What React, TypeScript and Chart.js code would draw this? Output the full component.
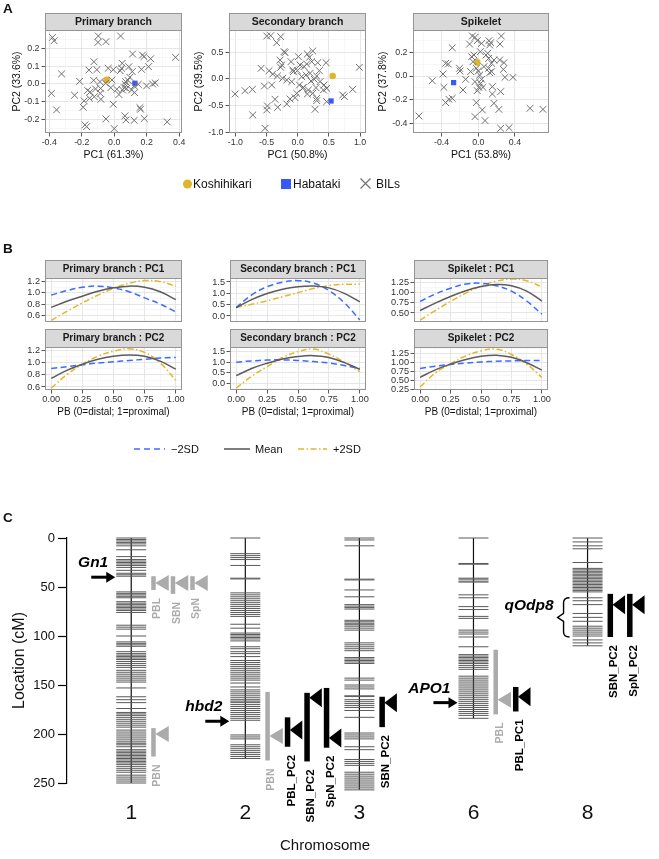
import React, { useEffect, useRef } from 'react';
import { Chart, registerables } from 'chart.js';

Chart.register(...registerables);

const FONT = '"Liberation Sans", Arial, Helvetica, sans-serif';
const YELLOW = '#E0B52A';
const BLUE = '#3658FF';
const CROSS = '#707070';
const SD_BLUE = '#3E6BFF';
const SD_GRAY = '#5c5c5c';
const SD_YELLOW = '#E5B62A';

// ---------------- Panel A: PCA scatter ----------------
const pcaTitles = ['Primary branch', 'Secondary branch', 'Spikelet'];
const pc1Labels = ['PC1 (61.3%)', 'PC1 (50.8%)', 'PC1 (53.8%)'];
const pc2Labels = ['PC2 (33.6%)', 'PC2 (39.5%)', 'PC2 (37.8%)'];
const pcaXTicks = [[-0.4, -0.2, 0, 0.2, 0.4], [-1, -0.5, 0, 0.5, 1], [-0.4, 0, 0.4]];
const pcaYTicks = [[-0.2, -0.1, 0, 0.1, 0.2], [-1, -0.5, 0, 0.5], [-0.4, -0.2, 0, 0.2]];

const primaryBILs = [
  [-0.38, 0.264], [-0.37, 0.245], [-0.098, 0.272], [-0.1, 0.236], [-0.051, 0.24], [0.039, 0.272],
  [0.113, 0.17], [0.174, 0.164], [0.183, 0.155], [0.224, 0.143], [0.377, 0.151], [-0.125, 0.126],
  [-0.156, 0.079], [-0.107, 0.081], [-0.324, 0.057], [-0.037, 0.089], [-0.006, 0.081], [0.037, 0.075],
  [0.049, 0.117], [0.045, 0.089], [0.09, 0.098], [0.111, 0.07], [0.168, 0.083], [0.211, 0.098],
  [-0.213, 0.015], [-0.127, 0.021], [-0.088, 0.013], [-0.053, 0.004], [-0.014, 0.023], [0.07, 0.013],
  [0.084, 0.021], [0.096, 0.038], [0.068, -0.002], [0.123, -0.011], [0.148, -0.002], [0.199, -0.011],
  [0.236, 0.0], [0.252, 0.006], [-0.386, -0.053], [-0.244, -0.064], [-0.164, -0.036], [-0.148, -0.045],
  [-0.115, -0.028], [-0.084, -0.025], [-0.086, -0.053], [-0.021, -0.021], [0.016, -0.03], [0.029, -0.06],
  [0.051, -0.034], [0.076, -0.025], [0.107, -0.034], [0.125, -0.049], [-0.152, -0.081], [-0.123, -0.072],
  [-0.082, -0.087], [-0.185, -0.096], [-0.191, -0.132], [-0.006, -0.115], [-0.355, -0.147], [0.158, -0.134],
  [0.162, -0.143], [0.066, -0.181], [0.072, -0.204], [0.123, -0.206], [0.185, -0.196], [-0.051, -0.198],
  [-0.18, -0.232], [-0.17, -0.242], [0.0, -0.253], [0.326, -0.215], [0.062, -0.021],
];
const secondaryBILs = [
  [-0.497, 0.806], [-0.433, 0.813], [-0.273, 0.794], [-0.337, 0.681], [-0.219, 0.513], [-0.203, 0.494],
  [0.011, 0.419], [0.155, 0.469], [0.241, 0.525], [0.187, 0.406], [0.455, 0.306], [0.989, 0.219],
  [-0.283, 0.356], [-0.257, 0.263], [-0.273, 0.219], [-0.588, 0.2], [-0.46, 0.156], [-0.107, 0.325],
  [-0.07, 0.138], [-0.08, 0.169], [0.037, 0.263], [0.102, 0.231], [0.225, 0.325], [0.321, 0.306],
  [0.348, 0.156], [0.198, 0.106], [0.305, 0.056], [0.267, -0.006], [0.134, 0.075], [0.064, 0.044],
  [-0.326, 0.056], [-0.401, 0.094], [-0.241, 0.013], [-0.176, -0.019], [-0.096, -0.05], [0.027, -0.113],
  [0.091, -0.156], [0.214, -0.038], [0.358, -0.05], [0.422, -0.113], [0.294, -0.163], [0.171, -0.206],
  [0.241, -0.269], [0.305, -0.363], [0.305, -0.406], [0.278, -0.569], [0.155, -0.281], [0.08, -0.175],
  [-0.016, -0.269], [-0.123, -0.375], [-0.176, -0.469], [-0.043, -0.35], [-0.364, -0.381], [-0.487, -0.506],
  [-0.497, -0.581], [-0.321, -0.531], [-0.727, -0.194], [-0.845, -0.219], [-1.005, -0.281], [-0.535, -0.131],
  [-0.417, -0.113], [-0.722, -0.675], [-0.524, -0.925], [0.465, -0.175], [0.412, -0.206], [0.722, -0.3],
  [0.749, -0.331], [0.882, -0.194], [0.465, -0.425], [-0.005, 0.156], [0.144, 0.281],
];
const spikeletBILs = [
  [-0.065, 0.338], [-0.036, 0.327], [-0.095, 0.27], [-0.011, 0.299], [0.036, 0.276], [0.116, 0.299],
  [0.135, 0.282], [0.124, 0.262], [0.251, 0.338], [0.236, 0.27], [-0.284, 0.239], [-0.356, 0.107],
  [-0.327, 0.101], [-0.204, 0.065], [-0.2, 0.042], [-0.073, 0.163], [-0.047, 0.177], [0.022, 0.206],
  [0.084, 0.177], [0.113, 0.149], [0.102, 0.192], [0.145, 0.107], [0.171, 0.135], [0.233, 0.135],
  [0.28, 0.113], [0.273, 0.056], [0.291, -0.011], [0.378, -0.011], [0.145, 0.037], [0.124, 0.028],
  [-0.084, 0.037], [-0.022, 0.065], [0.0, 0.042], [0.015, 0.008], [0.036, -0.028], [0.025, -0.062],
  [0.007, -0.096], [-0.011, -0.124], [0.051, -0.096], [-0.138, -0.028], [-0.167, -0.118], [0.153, -0.09],
  [0.153, -0.152], [0.244, -0.132], [-0.022, -0.225], [0.044, -0.287], [0.225, -0.282], [0.171, -0.231],
  [-0.036, -0.344], [0.073, -0.377], [0.244, -0.442], [0.335, -0.437], [0.564, -0.273], [0.705, -0.282],
  [-0.385, 0.017], [-0.375, -0.096], [-0.284, -0.189], [-0.32, -0.197], [-0.356, -0.225], [0.113, 0.065],
  [0.062, 0.079], [-0.058, 0.121], [-0.036, -0.048], [-0.502, -0.04], [-0.647, -0.338],
];
const pcaBILs = [primaryBILs, secondaryBILs, spikeletBILs];
const koshihikari = [[-0.047, 0.023], [0.561, 0.056], [-0.011, 0.115]];
const habataki = [[0.127, 0.004], [0.535, -0.413], [-0.269, -0.056]];

// ---------------- Panel B: curves along the panicle ----------------
const pbPosition = [0, 0.125, 0.25, 0.375, 0.5, 0.625, 0.75, 0.875, 1];
const pbXTicks = [0, 0.25, 0.5, 0.75, 1];
const curveTitles = [
  'Primary branch : PC1', 'Secondary branch : PC1', 'Spikelet : PC1',
  'Primary branch : PC2', 'Secondary branch : PC2', 'Spikelet : PC2',
];
const primaryPC1Minus = [0.96, 1.04, 1.1, 1.12, 1.09, 1.02, 0.91, 0.8, 0.66];
const primaryPC1Mean = [0.74, 0.85, 0.94, 1.03, 1.09, 1.12, 1.1, 1.02, 0.88];
const primaryPC1Plus = [0.51, 0.67, 0.82, 0.96, 1.08, 1.17, 1.22, 1.2, 1.12];
const secondaryPC1Minus = [0.37, 0.93, 1.29, 1.49, 1.56, 1.45, 1.12, 0.58, -0.17];
const secondaryPC1Mean = [0.37, 0.72, 0.99, 1.18, 1.29, 1.32, 1.24, 1.0, 0.62];
const secondaryPC1Plus = [0.37, 0.52, 0.67, 0.85, 1.03, 1.21, 1.34, 1.4, 1.4];
const spikeletPC1Minus = [0.78, 0.96, 1.1, 1.2, 1.22, 1.16, 1.03, 0.79, 0.47];
const spikeletPC1Mean = [0.56, 0.74, 0.9, 1.04, 1.14, 1.19, 1.16, 1.03, 0.79];
const spikeletPC1Plus = [0.33, 0.56, 0.78, 0.98, 1.15, 1.27, 1.32, 1.28, 1.13];
const primaryPC2Minus = [0.9, 0.93, 0.96, 0.99, 1.01, 1.03, 1.05, 1.07, 1.08];
const primaryPC2Mean = [0.74, 0.87, 0.97, 1.05, 1.1, 1.12, 1.1, 1.02, 0.89];
const primaryPC2Plus = [0.58, 0.8, 0.97, 1.1, 1.18, 1.22, 1.16, 0.99, 0.71];
const secondaryPC2Minus = [1.0, 1.06, 1.1, 1.11, 1.08, 1.03, 0.96, 0.84, 0.7];
const secondaryPC2Mean = [0.36, 0.7, 0.95, 1.15, 1.27, 1.31, 1.22, 0.98, 0.66];
const secondaryPC2Plus = [-0.23, 0.33, 0.79, 1.22, 1.5, 1.62, 1.38, 1.0, 0.55];
const spikeletPC2Minus = [0.83, 0.89, 0.94, 0.98, 1.01, 1.03, 1.04, 1.05, 1.05];
const spikeletPC2Mean = [0.58, 0.79, 0.95, 1.08, 1.17, 1.2, 1.14, 0.99, 0.78];
const spikeletPC2Plus = [0.31, 0.7, 0.96, 1.18, 1.32, 1.37, 1.22, 0.95, 0.58];
const curveMinus = [primaryPC1Minus, secondaryPC1Minus, spikeletPC1Minus, primaryPC2Minus, secondaryPC2Minus, spikeletPC2Minus];
const curveMean = [primaryPC1Mean, secondaryPC1Mean, spikeletPC1Mean, primaryPC2Mean, secondaryPC2Mean, spikeletPC2Mean];
const curvePlus = [primaryPC1Plus, secondaryPC1Plus, spikeletPC1Plus, primaryPC2Plus, secondaryPC2Plus, spikeletPC2Plus];
const curveYTicks = [
  [0.6, 0.8, 1.0, 1.2], [0, 0.5, 1, 1.5], [0.5, 0.75, 1, 1.25],
  [0.6, 0.8, 1.0, 1.2], [0, 0.5, 1, 1.5], [0.25, 0.5, 0.75, 1, 1.25],
];
const curveYDecimals = [1, 1, 2, 1, 1, 2];
const curveLegend = ['\u22122SD', 'Mean', '+2SD'];

// ---------------- Panel C: linkage map ----------------
const chromosomes = ['1', '2', '3', '6', '8'];
const locationTicks = [0, 50, 100, 150, 200, 250];
const chr1Markers = [0, 1.5, 3, 4.5, 6, 8, 12, 19, 22, 23.5, 25, 26.5, 28, 30, 33, 36, 37.5, 39, 55, 56.5, 58, 59.5, 61,
  65, 66.5, 68, 69.5, 71, 72.5, 74, 76, 89, 91, 93, 100, 106, 107.5, 109, 110.5, 116, 118, 119.5, 121, 122.5, 124,
  126, 128, 130, 132, 135, 137, 139, 141, 143, 145, 147, 153, 162, 165, 168, 174, 178, 179.5, 181, 183, 185, 187,
  189, 191, 193, 196, 198, 200, 202, 204, 206, 208, 209.5, 211, 213, 216, 217.5, 219, 220.5, 222, 223.5, 225, 226.5,
  228, 229.5, 231, 233, 235, 237, 239, 242, 244, 246, 248, 250];
const chr2Markers = [0, 16, 18, 20, 22, 28, 41, 41.8, 56, 58, 60, 62, 64, 66, 68, 70, 72, 74, 76, 78, 80, 88, 92, 97,
  98.5, 100, 101.5, 103, 105, 111, 113, 116, 118, 121, 125, 127, 129, 131, 133, 135, 137, 139, 141, 143, 145, 148,
  152, 155, 157, 159, 161, 163, 165, 166.5, 168, 170, 172, 174, 176, 178, 180, 182, 184, 186, 201, 203, 205, 211,
  213, 215, 217, 219, 221, 223, 225];
const chr3Markers = [0, 2, 8, 42, 42.8, 53, 60, 68, 69.5, 71, 72.5, 84, 85.5, 87, 88.5, 90, 92, 94, 107, 109, 111,
  113, 115, 122, 123.5, 125, 126.5, 128, 143, 145, 150, 152, 154, 161, 161.8, 165, 167, 169, 171, 173, 176, 183, 199,
  201, 203, 205, 213, 216, 226, 228, 230, 232, 239, 241, 243, 245, 247, 249, 251, 253, 255, 257];
const chr6Markers = [0, 26, 26.8, 41, 42, 44, 45, 58, 61, 70, 73, 80, 82, 94, 96, 98, 101, 111, 119, 120.5, 122, 123.5,
  125, 126.5, 128, 130, 132, 134, 141, 143, 145, 147, 149, 151, 153, 155, 157, 159, 161, 163, 165, 167, 169, 171,
  173, 175, 177, 179, 181, 184];
const chr8Markers = [0, 4, 8, 11, 25, 31, 32.5, 34, 35.5, 37, 38.5, 40, 41.5, 43, 44.5, 46, 47.5, 49, 50.5, 52, 53.5,
  55, 61, 64, 68, 77, 81, 85, 90, 92, 94, 96, 98, 100, 104, 107, 110];
const chrMarkers = [chr1Markers, chr2Markers, chr3Markers, chr6Markers, chr8Markers];

// QTL: name, chromosome, start cM, end cM, peak cM, significant (black) or not (gray)
const qtls: [string, string, number, number, number, boolean][] = [
  ['PBL', '1', 39, 53, 46, false],
  ['SBN', '1', 39, 57, 46, false],
  ['SpN', '1', 39, 53, 46, false],
  ['PBN', '1', 194, 223, 200, false],
  ['PBN', '2', 157, 227, 202, false],
  ['PBL_PC2', '2', 183, 213, 196, true],
  ['SBN_PC2', '2', 158, 228, 163, true],
  ['SpN_PC2', '2', 153, 214, 204, true],
  ['SBN_PC2', '3', 162, 193, 168, true],
  ['PBL', '6', 114, 180, 165, false],
  ['PBL_PC1', '6', 152, 177, 162, true],
  ['SBN_PC2', '8', 57, 101, 68, true],
  ['SpN_PC2', '8', 57, 101, 68, true],
];
const geneNames = ['Gn1', 'hbd2', 'APO1'];
const geneChr = ['1', '2', '6'];
const genePos = [40, 187, 168];
const regionName = 'qOdp8';
const regionChr = '8';
const regionFrom = 61;
const regionTo = 101;

// ---------------- helpers ----------------
function withMinor(major: number[]) {
  const step = major[1] - major[0];
  const out: any[] = [];
  for (let i = -1; i < major.length; i++) {
    if (i >= 0) out.push({ value: major[i], minor: false });
    out.push({ value: major[0] + step * (i + 0.5), minor: true });
  }
  return out;
}

function stripPlugin(text: string, height: number, size: number) {
  return {
    id: 'facetStrip',
    afterDraw(chart: any) {
      const { ctx, chartArea: a } = chart;
      ctx.save();
      ctx.strokeStyle = '#959595';
      ctx.lineWidth = 1;
      ctx.strokeRect(a.left + 0.5, a.top + 0.5, a.right - a.left - 1, a.bottom - a.top - 1);
      ctx.fillStyle = '#d9d9d9';
      ctx.fillRect(a.left, a.top - height, a.right - a.left, height);
      ctx.strokeRect(a.left + 0.5, a.top - height + 0.5, a.right - a.left - 1, height);
      ctx.fillStyle = '#1a1a1a';
      ctx.font = `bold ${size}px ${FONT}`;
      ctx.textAlign = 'center';
      ctx.textBaseline = 'middle';
      ctx.fillText(text, (a.left + a.right) / 2, a.top - height / 2 + 0.5);
      ctx.restore();
    },
  };
}

function facetScale(o: any) {
  return {
    type: 'linear',
    position: o.horizontal ? 'bottom' : 'left',
    min: o.min,
    max: o.max,
    afterBuildTicks: (s: any) => {
      s.ticks = withMinor(o.ticks).filter((t: any) => t.value >= o.min - 1e-9 && t.value <= o.max + 1e-9);
    },
    afterFit: (s: any) => {
      if (o.horizontal) s.height = o.size; else s.width = o.size;
      s.paddingLeft = 0; s.paddingRight = 0; s.paddingTop = 0; s.paddingBottom = 0;
    },
    grid: {
      color: (c: any) => (c.tick && c.tick.minor ? '#f2f2f2' : '#e3e3e3'),
      lineWidth: (c: any) => (c.tick && c.tick.minor ? 0.6 : 0.9),
      drawTicks: o.show,
      tickLength: 3.5,
      tickColor: (c: any) => (c.tick && c.tick.minor ? 'rgba(0,0,0,0)' : '#444'),
      tickWidth: 0.9,
    },
    border: { display: false },
    ticks: {
      display: o.show,
      autoSkip: false,
      maxRotation: 0,
      minRotation: 0,
      padding: o.tickPad,
      color: '#333',
      font: { family: FONT, size: o.tickFont },
      callback: (v: number, i: number, ts: any[]) => (ts[i] && ts[i].minor ? '' : Number(v).toFixed(o.dec)),
    },
    title: {
      display: !!o.title,
      text: o.title || '',
      color: '#111',
      font: { family: FONT, size: o.titleFont },
      padding: { top: o.titlePad, bottom: o.titlePad },
    },
  };
}

const baseOptions = (pad: any) => ({
  animation: false,
  responsive: false,
  events: [],
  layout: { padding: pad },
  plugins: { legend: { display: false }, tooltip: { enabled: false } },
});

// ---------------- panel configs ----------------
const A_LEFT = [0, 190, 374];
const A_WIDTH = [190, 184, 183];
const A_YAXIS = [45, 39, 39];
const A_YTITLEPAD = [11, 2.4, 2.7];
const A_XRANGE = [[-0.426, 0.417], [-1.103, 1.096], [-0.712, 0.771]];
const A_YRANGE = [[-0.278, 0.306], [-1.013, 0.919], [-0.482, 0.389]];

function pcaConfig(i: number) {
  const pts = (arr: number[][]) => arr.map(([x, y]) => ({ x, y }));
  return {
    type: 'scatter',
    data: {
      datasets: [
        { data: pts(pcaBILs[i]), pointStyle: 'crossRot', pointRadius: 4.8, pointBorderColor: CROSS, pointBackgroundColor: CROSS, pointBorderWidth: 1 },
        { data: pts([koshihikari[i]]), pointStyle: 'circle', pointRadius: 3.3, pointBorderWidth: 0, pointBackgroundColor: YELLOW, pointBorderColor: YELLOW },
        { data: pts([habataki[i]]), pointStyle: 'rect', pointRadius: 3.7, pointBorderWidth: 0, pointBackgroundColor: BLUE, pointBorderColor: BLUE },
      ],
    },
    options: {
      ...baseOptions({ top: 20, right: 8, bottom: 0, left: 0 }),
      scales: {
        x: facetScale({ horizontal: true, min: A_XRANGE[i][0], max: A_XRANGE[i][1], ticks: pcaXTicks[i], dec: 1, show: true, size: 37, tickPad: 1.2, tickFont: 8.8, title: pc1Labels[i], titleFont: 10.5, titlePad: 8.7 }),
        y: facetScale({ horizontal: false, min: A_YRANGE[i][0], max: A_YRANGE[i][1], ticks: pcaYTicks[i], dec: 1, show: true, size: A_YAXIS[i], tickPad: 2, tickFont: 8.8, title: pc2Labels[i], titleFont: 10.5, titlePad: A_YTITLEPAD[i] }),
      },
    },
    plugins: [stripPlugin(pcaTitles[i], 17, 10.5)],
  };
}

const B_LEFT = [0, 190, 374];
const B_WIDTH = [190, 184, 186];
const B_YAXIS = [45, 40, 40];
const B_PADRIGHT = [8, 8, 12];
const B_YRANGE = [[0.48, 1.265], [-0.265, 1.676], [0.282, 1.347], [0.551, 1.249], [-0.32, 1.72], [0.225, 1.43]];

function curveConfig(k: number) {
  const row = Math.floor(k / 3);
  const col = k % 3;
  const series = (vals: number[]) => pbPosition.map((x, j) => ({ x, y: vals[j] }));
  const line = (vals: number[], color: string, dash: number[]) => ({
    data: series(vals), showLine: true, borderColor: color, borderWidth: 1.5, borderDash: dash,
    pointRadius: 0, tension: 0.4, fill: false,
  });
  return {
    type: 'scatter',
    data: {
      datasets: [
        line(curveMean[k], SD_GRAY, []),
        line(curveMinus[k], SD_BLUE, [6, 3.5]),
        line(curvePlus[k], SD_YELLOW, [6, 2.5, 1.5, 2.5]),
      ],
    },
    options: {
      ...baseOptions({ top: row === 0 ? 23 : 22, right: B_PADRIGHT[col], bottom: 0, left: 0 }),
      scales: {
        x: facetScale({ horizontal: true, min: -0.05, max: 1.05, ticks: pbXTicks, dec: 2, show: row === 1, size: row === 0 ? 3 : 30, tickPad: 0, tickFont: 9.2, title: row === 1 ? 'PB (0=distal; 1=proximal)' : '', titleFont: 10, titlePad: 2 }),
        y: facetScale({ horizontal: false, min: B_YRANGE[k][0], max: B_YRANGE[k][1], ticks: curveYTicks[k], dec: curveYDecimals[k], show: true, size: B_YAXIS[col], tickPad: 1.5, tickFont: 9.2, title: '', titleFont: 10, titlePad: 0 }),
      },
    },
    plugins: [stripPlugin(curveTitles[k], 18, 10)],
  };
}

const mapPlugin = {
  id: 'linkageMap',
  afterDatasetsDraw(chart: any) {
    const { ctx, chartArea } = chart;
    const x = chart.scales.x;
    const y = chart.scales.y;
    ctx.save();
    // QTL bars, peak triangles and labels
    const lanes: Record<string, number[][][]> = {};
    qtls.forEach(([name, chr, start, end, peak, sig]) => {
      const list = lanes[chr] || (lanes[chr] = []);
      let t = list.findIndex((l) => l.every(([a, b]) => end < a || start > b));
      if (t < 0) { t = list.length; list.push([]); }
      list[t].push([start, end]);
      const cx = x.getPixelForValue(chromosomes.indexOf(chr));
      const bx = cx + 20 + t * 19.5;
      const bw = sig ? 5.5 : 4.5;
      const y0 = y.getPixelForValue(start);
      const y1 = y.getPixelForValue(end);
      const yp = y.getPixelForValue(peak);
      const col = sig ? '#000' : '#ababab';
      ctx.fillStyle = col;
      ctx.fillRect(bx, y0, bw, y1 - y0);
      const th = sig ? 19 : 16;
      const tw = sig ? 12 : 13;
      ctx.beginPath();
      ctx.moveTo(bx + bw - 0.5, yp);
      ctx.lineTo(bx + bw + tw, yp - th / 2);
      ctx.lineTo(bx + bw + tw, yp + th / 2);
      ctx.closePath();
      ctx.fill();
      ctx.save();
      ctx.translate(bx + bw / 2 + 4, y1 + 8);
      ctx.rotate(-Math.PI / 2);
      ctx.textAlign = 'right';
      ctx.textBaseline = 'middle';
      ctx.font = `bold ${sig ? 11.5 : 10.5}px ${FONT}`;
      ctx.fillText(name, 0, 0);
      ctx.restore();
    });
    // gene arrows
    ctx.fillStyle = '#000';
    ctx.strokeStyle = '#000';
    geneNames.forEach((g, i) => {
      const cx = x.getPixelForValue(chromosomes.indexOf(geneChr[i]));
      const yy = y.getPixelForValue(genePos[i]);
      const tip = cx - 16;
      const tail = tip - 24;
      ctx.lineWidth = 3;
      ctx.beginPath();
      ctx.moveTo(tail, yy);
      ctx.lineTo(tip - 7, yy);
      ctx.stroke();
      ctx.beginPath();
      ctx.moveTo(tip, yy);
      ctx.lineTo(tip - 9, yy - 5.5);
      ctx.lineTo(tip - 9, yy + 5.5);
      ctx.closePath();
      ctx.fill();
      ctx.font = `italic bold 15.5px ${FONT}`;
      ctx.textAlign = 'right';
      ctx.textBaseline = 'alphabetic';
      ctx.fillText(g, tail + 17, yy - 10);
    });
    // qOdp8 bracket
    const c8 = x.getPixelForValue(chromosomes.indexOf(regionChr));
    const ya = y.getPixelForValue(regionFrom);
    const yb = y.getPixelForValue(regionTo);
    const ym = (ya + yb) / 2;
    const bx = c8 - 24;
    ctx.lineWidth = 1.4;
    ctx.beginPath();
    ctx.moveTo(bx + 6, ya);
    ctx.quadraticCurveTo(bx, ya, bx, ya + 5);
    ctx.lineTo(bx, ym - 4);
    ctx.lineTo(bx - 6, ym);
    ctx.lineTo(bx, ym + 4);
    ctx.lineTo(bx, yb - 5);
    ctx.quadraticCurveTo(bx, yb, bx + 6, yb);
    ctx.stroke();
    ctx.font = `italic bold 15.5px ${FONT}`;
    ctx.textAlign = 'right';
    ctx.fillText(regionName, bx - 10, ym - 7);
    // x axis title
    ctx.font = `15px ${FONT}`;
    ctx.fillStyle = '#111';
    ctx.textAlign = 'center';
    ctx.fillText('Chromosome', chartArea.left + (chartArea.right - chartArea.left) * 0.448, chart.height - 9);
    ctx.restore();
  },
};

function mapConfig() {
  const datasets: any[] = [];
  chromosomes.forEach((c, i) => {
    datasets.push({
      data: chrMarkers[i].map((m) => ({ x: i, y: m })),
      pointStyle: 'line', pointRadius: 15, pointBorderWidth: 1,
      pointBorderColor: '#5a5a5a', pointBackgroundColor: '#5a5a5a', clip: false,
    });
  });
  chromosomes.forEach((c, i) => {
    const m = chrMarkers[i];
    datasets.push({
      data: [{ x: i, y: m[0] }, { x: i, y: m[m.length - 1] }],
      showLine: true, borderColor: '#111', borderWidth: 1.2, pointRadius: 0, clip: false,
    });
  });
  return {
    type: 'scatter',
    data: { datasets },
    options: {
      ...baseOptions({ top: 38, right: 0, bottom: 0, left: 0 }),
      scales: {
        x: {
          type: 'linear', min: -0.563, max: 4.486,
          afterBuildTicks: (s: any) => { s.ticks = chromosomes.map((_, i) => ({ value: i })); },
          afterFit: (s: any) => { s.height = 76; s.paddingLeft = 0; s.paddingRight = 0; },
          grid: { display: false, drawTicks: false },
          border: { display: false },
          ticks: {
            autoSkip: false, maxRotation: 0, padding: 18, color: '#111',
            font: { family: FONT, size: 21 },
            callback: (v: number) => chromosomes[v],
          },
        },
        y: {
          type: 'linear', reverse: true, min: 0, max: 250,
          afterBuildTicks: (s: any) => { s.ticks = locationTicks.map((v) => ({ value: v })); },
          afterFit: (s: any) => { s.width = 67; s.paddingTop = 0; s.paddingBottom = 0; },
          grid: { drawOnChartArea: false, drawTicks: true, tickLength: 9, tickColor: '#000', tickWidth: 1.2 },
          border: { display: true, color: '#000', width: 1.2 },
          ticks: { padding: 3, color: '#111', font: { family: FONT, size: 13 } },
          title: { display: true, text: 'Location (cM)', color: '#111', font: { family: FONT, size: 16 }, padding: { top: 10, bottom: 0 } },
        },
      },
    },
    plugins: [mapPlugin],
  };
}

// ---------------- components ----------------
function ChartBox({ left, top, width, height, make }: any) {
  const ref = useRef<HTMLCanvasElement>(null);
  useEffect(() => {
    const chart = new Chart(ref.current as HTMLCanvasElement, make());
    return () => chart.destroy();
  }, []);
  return (
    <canvas ref={ref} width={width} height={height}
      style={{ position: 'absolute', left, top, width, height, display: 'block' }} />
  );
}

export default function App() {
  const txt = { fontFamily: FONT, fill: '#111' } as any;
  return (
    <div style={{ position: 'absolute', left: 0, top: 0, width: 659, height: 859, background: '#fff', overflow: 'hidden' }}>
      {[0, 1, 2].map((i) => (
        <ChartBox key={'a' + i} left={A_LEFT[i]} top={10} width={A_WIDTH[i]} height={160} make={() => pcaConfig(i)} />
      ))}
      {[0, 1, 2, 3, 4, 5].map((k) => {
        const row = Math.floor(k / 3);
        const col = k % 3;
        return (
          <ChartBox key={'b' + k} left={B_LEFT[col]} top={row === 0 ? 255 : 325} width={B_WIDTH[col]}
            height={row === 0 ? 70 : 95} make={() => curveConfig(k)} />
        );
      })}
      <ChartBox left={0} top={500} width={659} height={359} make={() => mapConfig()} />
      <svg width={659} height={859} style={{ position: 'absolute', left: 0, top: 0, pointerEvents: 'none' }}>
        <text x={3} y={13} {...txt} fontWeight="bold" fontSize={13.5}>A</text>
        <text x={3} y={253} {...txt} fontWeight="bold" fontSize={13.5}>B</text>
        <text x={3} y={522} {...txt} fontWeight="bold" fontSize={13.5}>C</text>
        <circle cx={187.5} cy={184} r={4.5} fill={YELLOW} />
        <text x={193} y={188.3} {...txt} fontSize={12}>Koshihikari</text>
        <rect x={281} y={179} width={10} height={10} fill={BLUE} />
        <text x={293} y={188.3} {...txt} fontSize={12}>Habataki</text>
        <path d="M360.5 178.5 L370.5 188.5 M370.5 178.5 L360.5 188.5" stroke={CROSS} strokeWidth={1.2} />
        <text x={376} y={188.3} {...txt} fontSize={12}>BILs</text>
        <line x1={134} x2={165} y1={449} y2={449} stroke={SD_BLUE} strokeWidth={1.6} strokeDasharray="6 4" />
        <text x={171} y={453} {...txt} fontSize={11}>{curveLegend[0]}</text>
        <line x1={224} x2={250} y1={449} y2={449} stroke={SD_GRAY} strokeWidth={1.6} />
        <text x={255} y={453} {...txt} fontSize={11}>{curveLegend[1]}</text>
        <line x1={298} x2={327} y1={449} y2={449} stroke={SD_YELLOW} strokeWidth={1.6} strokeDasharray="6 2.5 1.5 2.5" />
        <text x={333} y={453} {...txt} fontSize={11}>{curveLegend[2]}</text>
      </svg>
    </div>
  );
}
